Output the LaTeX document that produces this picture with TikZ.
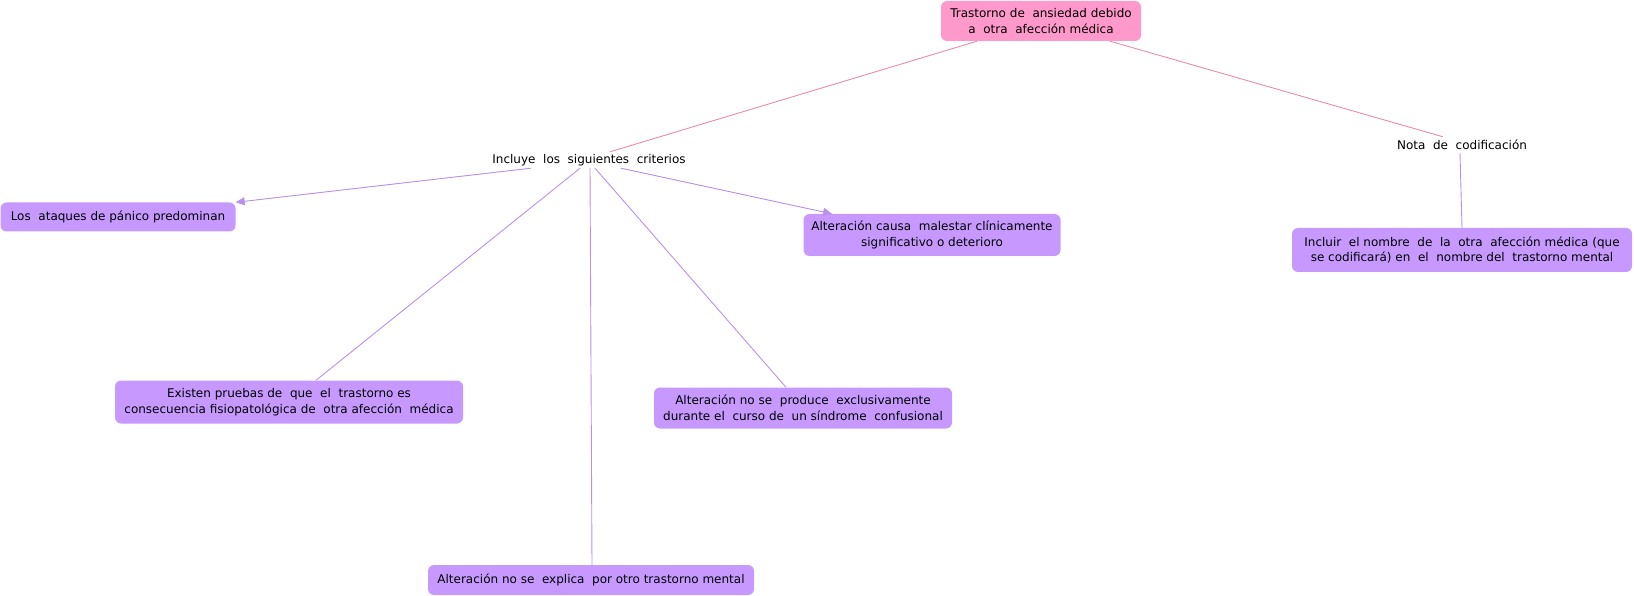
\documentclass[tikz,border=0pt]{standalone}
\usepackage{fontspec}
\setmainfont{DejaVu Sans}
\usetikzlibrary{arrows.meta}
\definecolor{boxpurple}{RGB}{199,153,255}
\definecolor{boxpink}{RGB}{255,153,204}
\definecolor{linepurple}{RGB}{185,145,235}
\definecolor{linepink}{RGB}{232,140,175}
\tikzset{
  cbox/.style={draw=none, rounded corners=6pt, align=center, inner sep=0pt,
    font=\fontsize{12}{15.5}\selectfont},
  pbox/.style={cbox, fill=boxpurple},
  rbox/.style={cbox, fill=boxpink},
  lbl/.style={inner sep=0pt, minimum height=16pt, font=\fontsize{12}{15.5}\selectfont},
  pline/.style={draw=linepurple, line width=0.9pt},
  rline/.style={draw=linepink, line width=0.9pt},
  parr/.style={pline, -{Triangle[length=9pt,width=8pt]}, fill=linepurple}
}
\begin{document}
\begin{tikzpicture}[x=1pt,y=-1pt]
\useasboundingbox (0,0) rectangle (1634,596);
\node[rbox, minimum width=200pt, minimum height=40pt] (root) at (1041,21)
  {Trastorno de\ \ ansiedad debido\\a\ \ otra\ \ afección médica};
\node[lbl] (incl) at (589,160) {Incluye\ \ los\ \ siguientes\ \ criterios};
\node[lbl] (nota) at (1462,145) {Nota\ \ de\ \ codificación};
\node[pbox, minimum width=235pt, minimum height=29pt] (ataq) at (118,217)
  {Los\ \ ataques de pánico predominan};
\node[pbox, minimum width=257pt, minimum height=42pt] (causa) at (932,235)
  {Alteración causa\ \ malestar clínicamente\\significativo o deterioro};
\node[pbox, minimum width=340pt, minimum height=44pt] (incluir) at (1462,250)
  {Incluir\ \ el nombre\ \ de\ \ la\ \ otra\ \ afección médica (que\\se codificará) en\ \ el\ \ nombre del\ \ trastorno mental};
\node[pbox, minimum width=348pt, minimum height=43pt] (exist) at (289,402)
  {Existen pruebas de\ \ que\ \ el\ \ trastorno es\\consecuencia fisiopatológica de\ \ otra afección\ \ médica};
\node[pbox, minimum width=298pt, minimum height=41pt] (prod) at (803,408)
  {Alteración no se\ \ produce\ \ exclusivamente\\durante el\ \ curso de\ \ un síndrome\ \ confusional};
\node[pbox, minimum width=326pt, minimum height=30pt] (expl) at (591,580)
  {Alteración no se\ \ explica\ \ por otro trastorno mental};

\draw[rline] ([xshift=-64pt]root.south) -- ([xshift=21pt]incl.north);
\draw[rline] ([xshift=69pt]root.south) -- ([xshift=-19pt]nota.north);
\draw[parr] ([xshift=-58pt]incl.south) -- (ataq.north east);
\draw[parr] ([xshift=32pt]incl.south) -- ([xshift=-100pt]causa.north);
\draw[pline] ([xshift=-9pt]incl.south) -- ([xshift=27pt]exist.north);
\draw[pline] ([xshift=1pt]incl.south) -- ([xshift=1pt]expl.north);
\draw[pline] ([xshift=6pt]incl.south) -- ([xshift=-17pt]prod.north);
\draw[pline] ([xshift=-2pt]nota.south) -- (incluir.north);
\end{tikzpicture}
\end{document}
